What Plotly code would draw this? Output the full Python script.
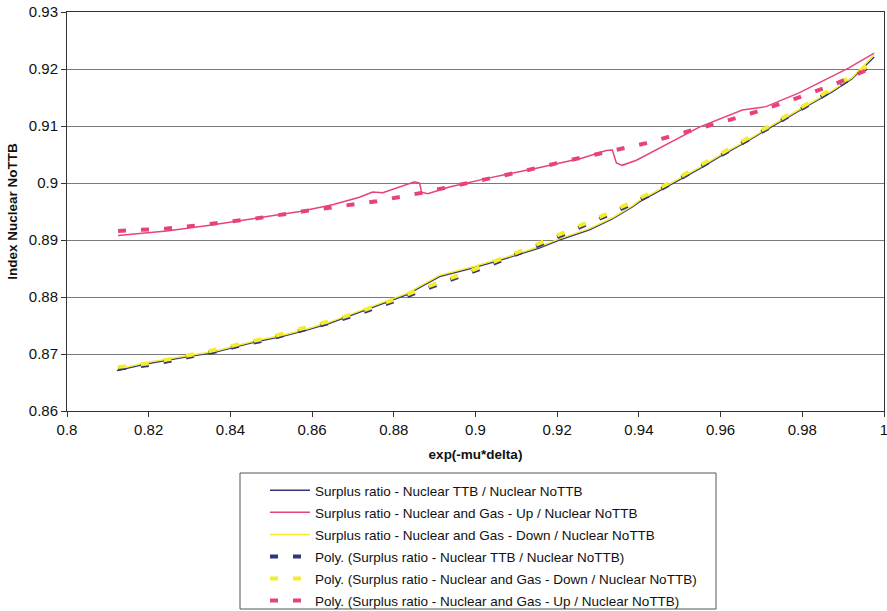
import plotly.graph_objects as go

# Surplus ratio - Nuclear TTB / Nuclear NoTTB
ttb_x = [0.8122, 0.8196, 0.8301, 0.8357, 0.8416, 0.8472, 0.8528, 0.8587, 0.8643, 0.8699,
         0.8748, 0.8831, 0.8912, 0.8993, 0.9076, 0.9156, 0.9205, 0.9279, 0.9335, 0.9384,
         0.9401, 0.9491, 0.9548, 0.9604, 0.9663, 0.9711, 0.9768, 0.9817, 0.9873, 0.9922, 0.9976]
ttb_y = [0.8671, 0.8683, 0.8696, 0.8702, 0.8713, 0.8723, 0.8731, 0.8742, 0.8754, 0.8769,
         0.8781, 0.8804, 0.8836, 0.8851, 0.8868, 0.8886, 0.8900, 0.8918, 0.8937, 0.8958,
         0.8967, 0.9002, 0.9025, 0.9049, 0.9072, 0.9093, 0.9116, 0.9137, 0.9160, 0.9183, 0.9221]

# Surplus ratio - Nuclear and Gas - Up / Nuclear NoTTB
up_x = [0.8125, 0.8244, 0.8350, 0.8465, 0.8570, 0.8650, 0.8716, 0.8748, 0.8773, 0.8851,
        0.8863, 0.8868, 0.8883, 0.8936, 0.9034, 0.9149, 0.9262, 0.9320, 0.9335, 0.9345,
        0.9359, 0.9394, 0.9548, 0.9653, 0.9711, 0.9792, 0.9914, 0.9976]
up_y = [0.8908, 0.8916, 0.8926, 0.8939, 0.8950, 0.8962, 0.8975, 0.8984, 0.8983, 0.9002,
        0.9000, 0.8984, 0.8981, 0.8993, 0.9009, 0.9026, 0.9044, 0.9057, 0.9058, 0.9035,
        0.9031, 0.9040, 0.9098, 0.9128, 0.9134, 0.9158, 0.9202, 0.9228]

# Surplus ratio - Nuclear and Gas - Down / Nuclear NoTTB
down_x = ttb_x
down_y = [0.8673, 0.8685, 0.8698, 0.8704, 0.8715, 0.8725, 0.8733, 0.8744, 0.8756, 0.8771,
          0.8783, 0.8806, 0.8838, 0.8853, 0.8870, 0.8888, 0.8902, 0.8920, 0.8939, 0.8960,
          0.8969, 0.9004, 0.9027, 0.9051, 0.9074, 0.9095, 0.9118, 0.9139, 0.9162, 0.9185, 0.9225]

# Polynomial trend lines
poly_down_x = [0.8125, 0.8203, 0.8259, 0.8318, 0.8374, 0.8430, 0.8489, 0.8545, 0.8601, 0.8660,
               0.8716, 0.8758, 0.8814, 0.8870, 0.8929, 0.8985, 0.9042, 0.9100, 0.9156, 0.9213,
               0.9271, 0.9328, 0.9384, 0.9443, 0.9499, 0.9553, 0.9609, 0.9663, 0.9714, 0.9768,
               0.9822, 0.9873, 0.9927, 0.9976]
poly_down_y = [0.8677, 0.8684, 0.8692, 0.8700, 0.8709, 0.8719, 0.8728, 0.8739, 0.8749, 0.8761,
               0.8774, 0.8784, 0.8799, 0.8815, 0.8830, 0.8845, 0.8861, 0.8877, 0.8894, 0.8912,
               0.8930, 0.8948, 0.8967, 0.8988, 0.9010, 0.9032, 0.9054, 0.9076, 0.9098, 0.9121,
               0.9143, 0.9166, 0.9190, 0.9213]
poly_ttb_x = poly_down_x
poly_ttb_y = [0.8674, 0.8681, 0.8689, 0.8697, 0.8706, 0.8716, 0.8725, 0.8736, 0.8746, 0.8758,
              0.8771, 0.8781, 0.8796, 0.8812, 0.8827, 0.8842, 0.8858, 0.8874, 0.8891, 0.8909,
              0.8927, 0.8945, 0.8964, 0.8985, 0.9007, 0.9029, 0.9051, 0.9073, 0.9095, 0.9118,
              0.9140, 0.9163, 0.9187, 0.9210]
poly_up_x = [0.8125, 0.8244, 0.8350, 0.8465, 0.8575, 0.8687, 0.8758, 0.8870, 0.8985, 0.9100,
             0.9213, 0.9328, 0.9418, 0.9533, 0.9648, 0.9760, 0.9875, 0.9976]
poly_up_y = [0.8916, 0.8920, 0.8928, 0.8938, 0.8950, 0.8962, 0.8968, 0.8983, 0.9000, 0.9018,
             0.9037, 0.9056, 0.9070, 0.9093, 0.9116, 0.9142, 0.9172, 0.9204]

x_ticks = [0.8, 0.82, 0.84, 0.86, 0.88, 0.9, 0.92, 0.94, 0.96, 0.98, 1.0]
x_labels = ["0.8", "0.82", "0.84", "0.86", "0.88", "0.9", "0.92", "0.94", "0.96", "0.98", "1"]
y_ticks = [0.86, 0.87, 0.88, 0.89, 0.9, 0.91, 0.92, 0.93]
y_labels = ["0.86", "0.87", "0.88", "0.89", "0.9", "0.91", "0.92", "0.93"]

NAVY = "#33367c"
PINK = "#e6437d"
YELLOW = "#f4ec2c"
FONT = "Arial, 'Liberation Sans', sans-serif"

series = [
    (ttb_x, ttb_y, NAVY, "solid", "Surplus ratio - Nuclear TTB / Nuclear NoTTB"),
    (up_x, up_y, PINK, "solid", "Surplus ratio - Nuclear and Gas - Up / Nuclear NoTTB"),
    (down_x, down_y, YELLOW, "solid", "Surplus ratio - Nuclear and Gas - Down / Nuclear NoTTB"),
    (poly_ttb_x, poly_ttb_y, NAVY, "poly", "Poly. (Surplus ratio - Nuclear TTB / Nuclear NoTTB)"),
    (poly_down_x, poly_down_y, YELLOW, "poly", "Poly. (Surplus ratio - Nuclear and Gas - Down / Nuclear NoTTB)"),
    (poly_up_x, poly_up_y, PINK, "poly", "Poly. (Surplus ratio - Nuclear and Gas - Up / Nuclear NoTTB)"),
]

fig = go.Figure()
for i, (xs, ys, color, kind, label) in enumerate(series):
    if kind == "solid":
        line = dict(color=color, width=1.5)
    else:
        line = dict(color=color, width=4, dash="8px,15px")
    fig.add_trace(go.Scatter(x=xs, y=ys, mode="lines", line=line, name=label,
                             legendgroup=f"g{i}"))

# plot area spans x 67..884 px and y 12..411 px; legend frame drawn as a shape
fig.add_shape(type="rect", xref="paper", yref="paper",
              x0=(240 - 67) / 817, x1=(716 - 67) / 817,
              y0=(411 - 609) / 399, y1=(411 - 473) / 399,
              line=dict(color="#555", width=1), fillcolor="rgba(0,0,0,0)")

fig.update_layout(
    width=887, height=611,
    margin=dict(l=67, r=3, t=12, b=200, autoexpand=False),
    paper_bgcolor="white", plot_bgcolor="white",
    font=dict(family=FONT, size=13, color="#111"),
    showlegend=True,
    legend=dict(
        x=(265 - 67) / 817, y=(411 - 475) / 399, xanchor="left", yanchor="top",
        borderwidth=0, bgcolor="rgba(0,0,0,0)",
        font=dict(family=FONT, size=13.5, color="#111"),
        tracegroupgap=1.5, itemwidth=40,
    ),
    xaxis=dict(
        range=[0.8, 1.0], tickvals=x_ticks, ticktext=x_labels, tickangle=0,
        ticklabeloverflow="allow",
        showgrid=False, zeroline=False,
        showline=True, linecolor="#333", linewidth=1, mirror=True,
        ticks="outside", ticklen=5, tickcolor="#333",
        tickfont=dict(size=15),
        title=dict(text="<b>exp(-mu*delta)</b>", font=dict(size=13.5), standoff=12),
    ),
    yaxis=dict(
        range=[0.86, 0.93], tickvals=y_ticks, ticktext=y_labels,
        ticklabeloverflow="allow",
        showgrid=True, gridcolor="#7a7a7a", gridwidth=1, zeroline=False,
        showline=True, linecolor="#333", linewidth=1, mirror=True,
        ticks="outside", ticklen=5, tickcolor="#333",
        tickfont=dict(size=15),
        title=dict(text="<b>Index Nuclear NoTTB</b>", font=dict(size=13.5), standoff=8),
    ),
)

fig.write_html("out.html")
